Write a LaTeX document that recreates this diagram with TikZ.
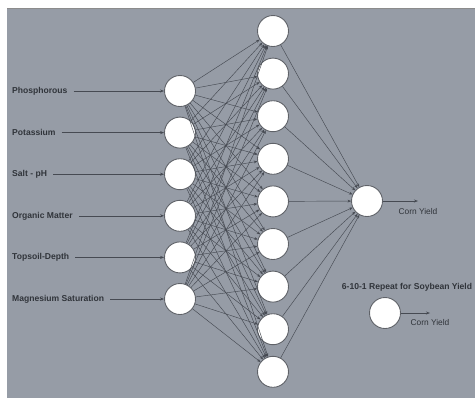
\documentclass[tikz,border=0pt]{standalone}
\usepackage{fontspec}
\setmainfont{Liberation Sans}
\usetikzlibrary{arrows.meta}
\definecolor{bg}{RGB}{150,156,166}
\definecolor{edge}{RGB}{70,74,82}
\definecolor{txt}{RGB}{48,52,58}
\definecolor{ring}{RGB}{95,98,104}
\begin{document}
\begin{tikzpicture}[x=1bp,y=-1bp,
  neuron/.style={circle,draw=ring,fill=white,line width=0.9bp,minimum size=31bp,inner sep=0pt},
  inlab/.style={anchor=west,inner sep=0pt,text=txt,font=\fontsize{8.6}{10}\selectfont\bfseries},
  outlab/.style={inner sep=0pt,text=txt,font=\fontsize{8.4}{10}\selectfont},
  conn/.style={draw=edge,line width=0.45bp,-{Stealth[length=3.5bp,width=2.8bp]}},
  feed/.style={draw=edge,line width=0.6bp,-{Stealth[length=4bp,width=3bp]}}]
\useasboundingbox (0,0) rectangle (475,398);
\fill[white] (0,0) rectangle (475,398);
\fill[bg] (7,8) rectangle (475,398);
\draw[black!45,line width=0.6bp] (7,8.3) -- (475,8.3);
% input nodes
\foreach \i/\t [count=\k from 0] in {1/Phosphorous,2/Potassium,3/Salt - pH,4/Organic Matter,5/Topsoil-Depth,6/Magnesium Saturation}{
  \node[neuron] (i\i) at (180,{91+41.6*\k}) {};
  \node[inlab] (l\i) at (12,{91+41.6*\k}) {\t};
  \draw[feed] ([xshift=6bp]l\i.east) -- (i\i);
}
% hidden nodes
\foreach \h [count=\k from 0] in {1,...,9}{
  \node[neuron] (h\h) at (273,{31+42.6*\k}) {};
}
% output
\node[neuron] (o) at (367,201) {};
% connections
\foreach \i in {1,...,6}{
  \foreach \h in {1,...,9}{
    \draw[conn] (i\i) -- (h\h);
  }
}
\foreach \h in {1,...,9}{
  \draw[conn] (h\h) -- (o);
}
\coordinate (c1) at (418,201);
\draw[feed] (o) -- (c1);
\node[outlab] (t1) at (418,211.5) {Corn Yield};
% soybean note
\node[inlab,anchor=center] (rep) at (407,287) {6-10-1 Repeat for Soybean Yield};
\node[neuron] (o2) at (385,313) {};
\coordinate (c2) at (430,313);
\draw[feed] (o2) -- (c2);
\node[outlab] (t2) at (430,322.5) {Corn Yield};
\end{tikzpicture}
\end{document}
